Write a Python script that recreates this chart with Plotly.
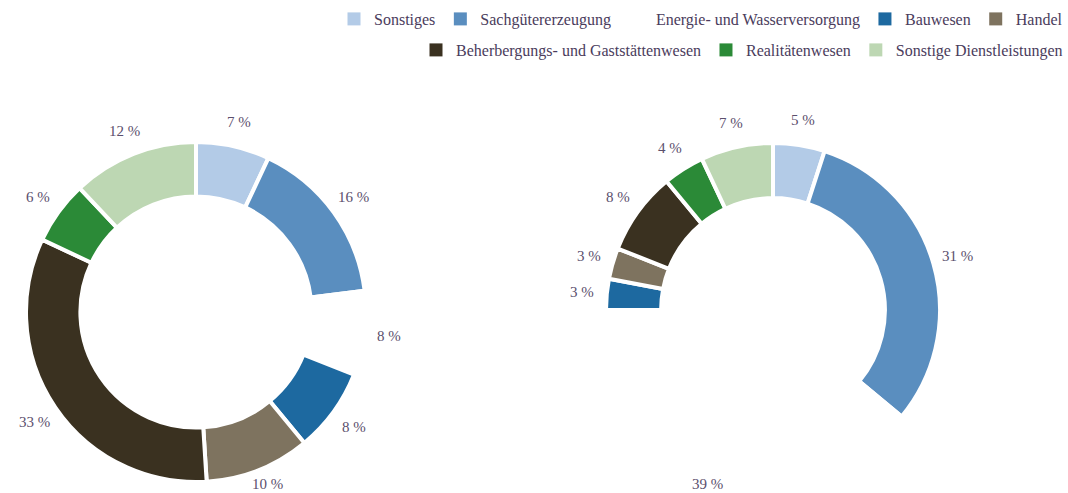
import math
import plotly.graph_objects as go

# ---- data ----
categories = ["Sonstiges", "Sachgütererzeugung", "Energie- und Wasserversorgung",
              "Bauwesen", "Handel", "Beherbergungs- und Gaststättenwesen",
              "Realitätenwesen", "Sonstige Dienstleistungen"]
left_values = [7, 16, 8, 8, 10, 33, 6, 12]
right_values = [5, 31, 39, 3, 3, 8, 4, 7]
legend_row1 = categories[:5]
legend_row2 = categories[5:]

# ---- styles ----
colors = ["#b3cbe7", "#5a8ebf", "#ffffff", "#1d69a0", "#7e735f",
          "#3a3120", "#2b8a37", "#bdd7b3"]
W, H = 1068, 493
FONT = "Liberation Serif"
LABEL_COLOR = "#5b4f6d"
LEGEND_COLOR = "#4a3c5c"

pies = [
    dict(values=left_values, cx=196, cy=312, r=168, hole=0.68),
    dict(values=right_values, cx=773, cy=310, r=165, hole=0.67),
]

fig = go.Figure()
annotations = []
LINE_W = 4
for p in pies:
    rd = p["r"] + LINE_W / 2
    fig.add_trace(go.Pie(
        labels=categories, values=p["values"], sort=False, direction="clockwise",
        rotation=0, hole=p["hole"], textinfo="none", showlegend=False,
        marker=dict(colors=colors, line=dict(color="white", width=LINE_W)),
        domain=dict(x=[(p["cx"] - rd) / W, (p["cx"] + rd) / W],
                    y=[1 - (p["cy"] + rd) / H, 1 - (p["cy"] - rd) / H]),
        hoverinfo="label+percent",
    ))
    total = sum(p["values"])
    cum = 0
    R = p["r"] + 27
    for v in p["values"]:
        mid = (cum + v / 2) / total
        cum += v
        th = 2 * math.pi * mid
        px = p["cx"] + R * math.sin(th)
        py = min(p["cy"] - R * math.cos(th), H - 9)
        annotations.append(dict(
            x=px / W, y=1 - py / H, xref="paper", yref="paper",
            text=f"{v} %", showarrow=False, xanchor="center", yanchor="middle",
            font=dict(family=FONT, size=15, color=LABEL_COLOR)))

# legend entries (two right-aligned rows)
for name in categories:
    fig.add_trace(go.Scatter(
        x=[None], y=[None], mode="markers", name=name,
        marker=dict(symbol="square", size=13, color=colors[categories.index(name)],
                    line=dict(width=0)),
        legend="legend" if name in legend_row1 else "legend2",
        hoverinfo="skip"))

leg_common = dict(orientation="h", xanchor="right", yanchor="middle",
                  font=dict(family=FONT, size=16, color=LEGEND_COLOR),
                  bgcolor="rgba(0,0,0,0)", itemclick=False, itemdoubleclick=False,
                  traceorder="normal")

fig.update_layout(
    width=W, height=H, margin=dict(l=0, r=0, t=0, b=0),
    paper_bgcolor="white", plot_bgcolor="white",
    xaxis=dict(visible=False), yaxis=dict(visible=False),
    annotations=annotations,
    legend=dict(x=1.0, y=1 - 19 / H, **leg_common),
    legend2=dict(x=1.0, y=1 - 50 / H, **leg_common),
)

fig.write_html("out.html", config={"displayModeBar": False},
               post_script="document.body.style.margin='0';document.body.style.overflow='hidden';")
